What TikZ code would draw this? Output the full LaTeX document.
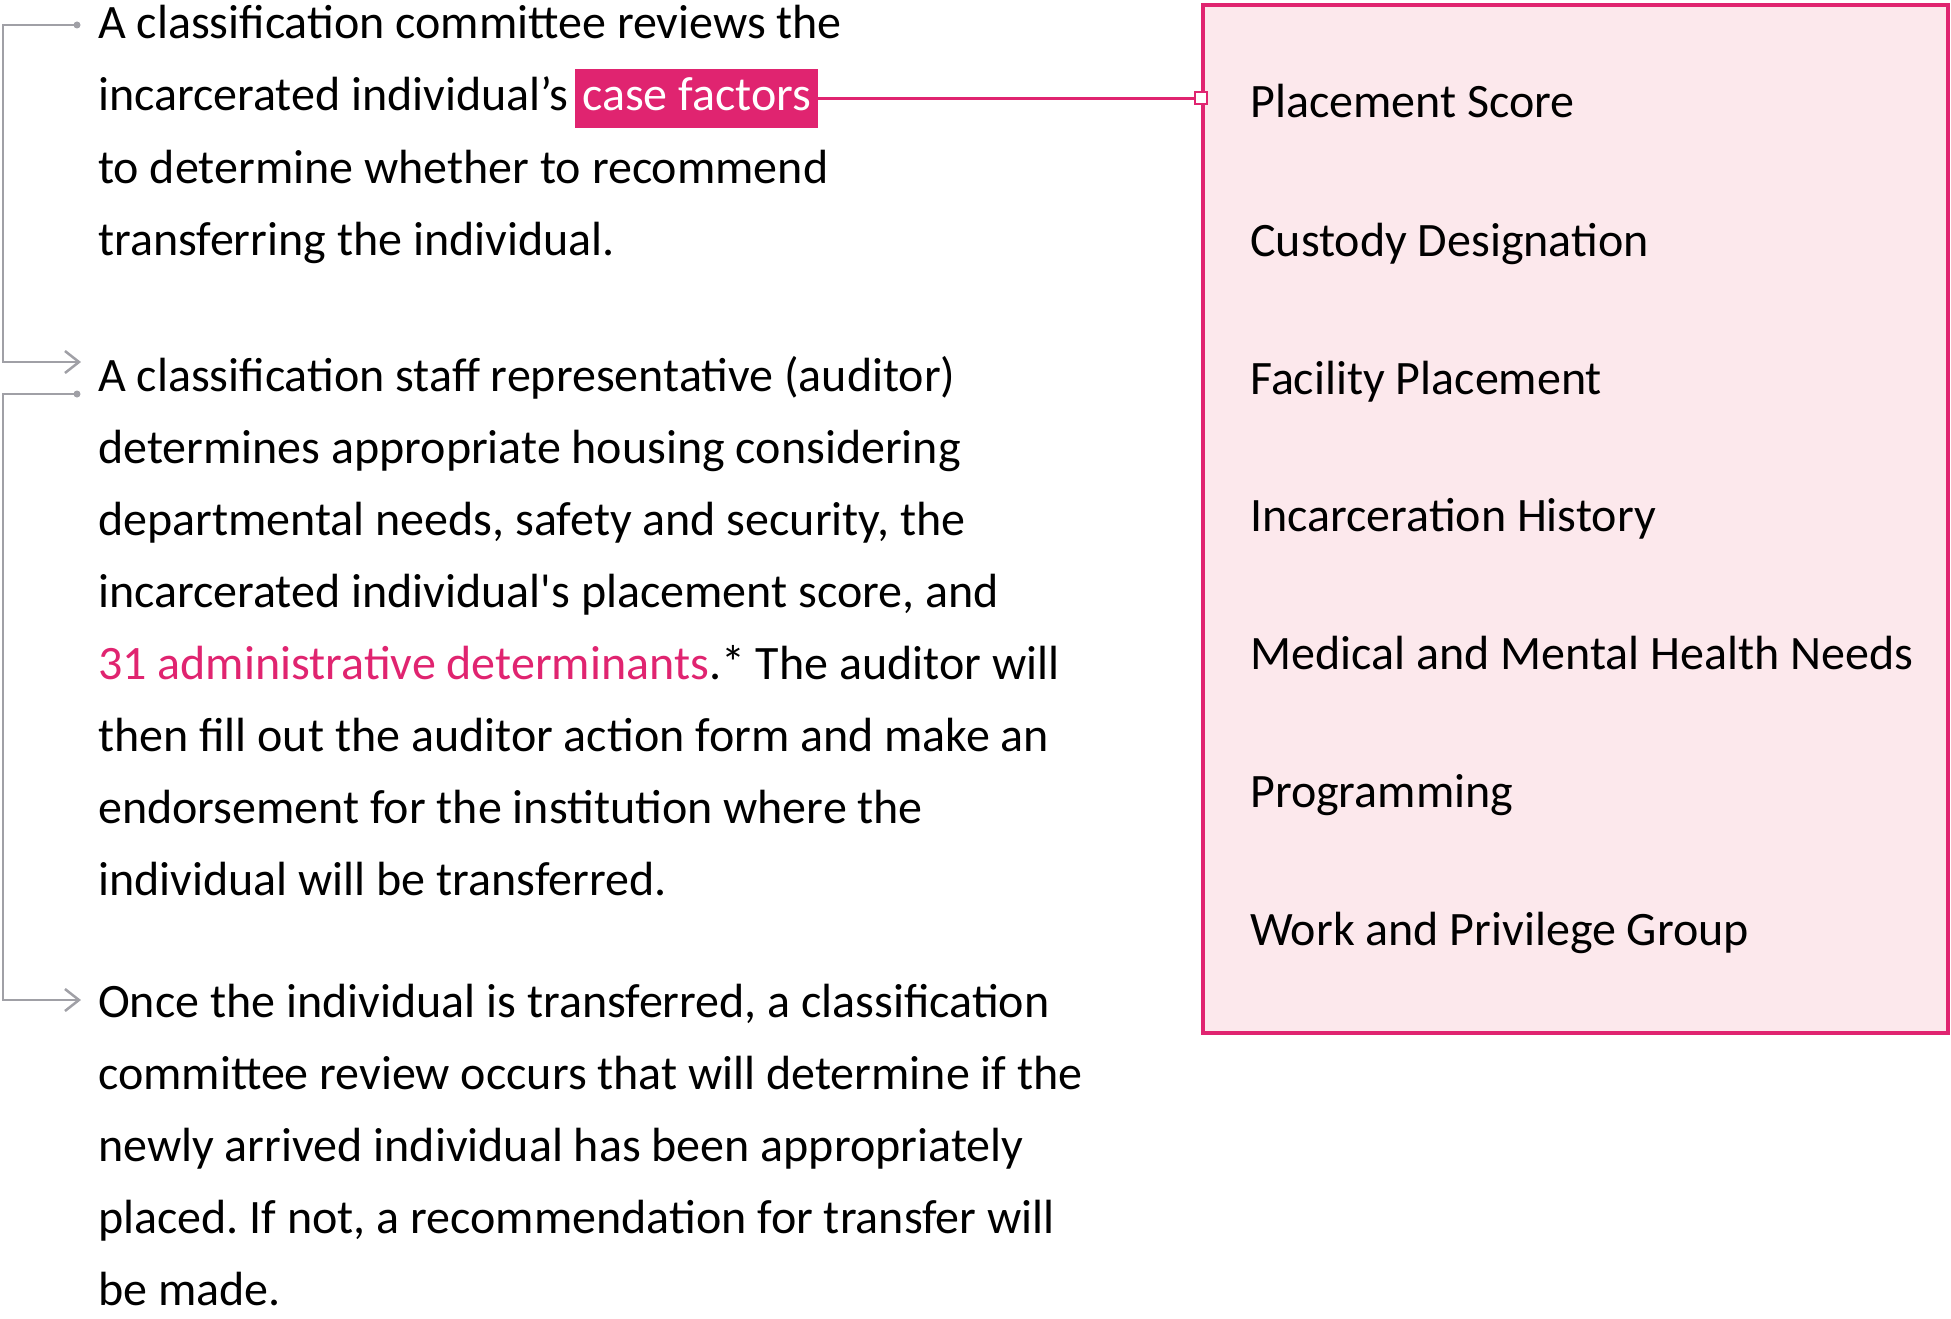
\documentclass[tikz,border=0pt]{standalone}
\usepackage{fontspec}
\setmainfont{Carlito}
\newfontfamily\plainquote{Carlito}[Ligatures=TeXOff]
\usetikzlibrary{arrows.meta}
\definecolor{accent}{RGB}{224,36,112}
\definecolor{boxfill}{RGB}{252,232,236}
\definecolor{guide}{RGB}{160,160,166}
\begin{document}
\frenchspacing
\begin{tikzpicture}[x=1pt,y=-1pt,
  para/.style={anchor=base west, inner sep=0pt, font=\fontsize{48}{72}\selectfont\frenchspacing, text=black},
  item/.style={anchor=base west, inner sep=0pt, font=\fontsize{48}{60}\selectfont, text=black},
  guideline/.style={draw=guide, line width=2.5pt},
  guidearrow/.style={guideline, -{Straight Barb[length=14pt,width=22pt,line width=2.5pt]}},
  guidedot/.style={circle, fill=guide, minimum size=7pt, inner sep=0pt},
  highlight/.style={anchor=base west, fill=accent, text=white, inner xsep=7pt, inner ysep=0pt,
    text height=42pt, text depth=17pt, font=\fontsize{48}{72}\selectfont},
  factorbox/.style={draw=accent, line width=3.5pt, fill=boxfill, inner sep=0pt,
    minimum width=745pt, minimum height=1028pt},
  link/.style={draw=accent, line width=3pt},
  linkend/.style={draw=accent, fill=white, line width=2pt, minimum size=12pt, inner sep=0pt}
]
\useasboundingbox (0,0) rectangle (1951,1319);

% right box with factors
\node[factorbox] (box) at (1575.5,519) {};
\node[item] (i1) at (1250,118) {Placement Score};
\node[item] (i2) at (1250,256) {Custody Designation};
\node[item] (i3) at (1250,394) {Facility Placement};
\node[item] (i4) at (1250,531) {Incarceration History};
\node[item] (i5) at (1250,669) {Medical and Mental Health Needs};
\node[item] (i6) at (1250,807) {Programming};
\node[item] (i7) at (1250,945) {Work and Privilege Group};

% paragraph 1
\node[para] (p1a) at (98,39) {A classification committee reviews the};
\node[para] (p1b) at (98,111) {incarcerated individual’s};
\node[highlight] (cf) at ([xshift=6pt]p1b.base east) {case factors};
\node[para] (p1c) at (98,183) {to determine whether to recommend};
\node[para] (p1d) at (98,255) {transferring the individual.};

% paragraph 2
\node[para] (p2a) at (98,391) {A classification staff representative (auditor)};
\node[para] (p2b) at (98,463) {determines appropriate housing considering};
\node[para] (p2c) at (98,535) {departmental needs, safety and security, the};
\node[para] (p2d) at (98,607) {incarcerated individual{\plainquote '}s placement score, and};
\node[para] (p2e) at (98,679) {\textcolor{accent}{31 administrative determinants}.* The auditor will};
\node[para] (p2f) at (98,751) {then fill out the auditor action form and make an};
\node[para] (p2g) at (98,823) {endorsement for the institution where the};
\node[para] (p2h) at (98,895) {individual will be transferred.};

% paragraph 3
\node[para] (p3a) at (98,1017) {Once the individual is transferred, a classification};
\node[para] (p3b) at (98,1089) {committee review occurs that will determine if the};
\node[para] (p3c) at (98,1161) {newly arrived individual has been appropriately};
\node[para] (p3d) at (98,1233) {placed. If not, a recommendation for transfer will};
\node[para] (p3e) at (98,1305) {be made.};

% connector from case factors to box
\coordinate (boxin) at (box.west |- cf.east);
\draw[link] (cf.east) -- (boxin);
\node[linkend] (sq) at (boxin) {};

% grey step connectors
\coordinate (rail) at (3,0);
\node[guidedot] (d1) at (77,25) {};
\coordinate (a1) at (81,362);
\draw[guidearrow] (d1.center) -- (d1 -| rail) -- (a1 -| rail) -- (a1);
\node[guidedot] (d2) at (77,394) {};
\coordinate (a2) at (81,1000);
\draw[guidearrow] (d2.center) -- (d2 -| rail) -- (a2 -| rail) -- (a2);
\end{tikzpicture}
\end{document}
